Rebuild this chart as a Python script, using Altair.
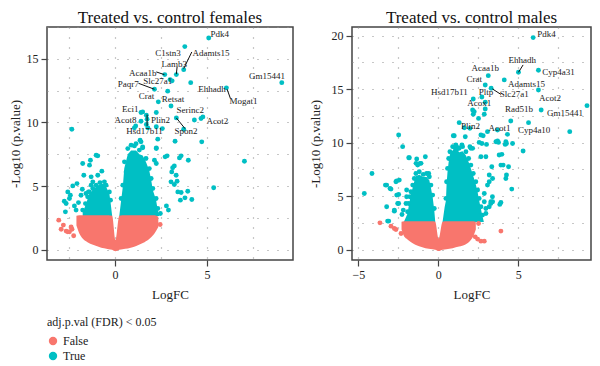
import altair as alt
import pandas as pd

FONT = "Liberation Serif"
RED, TEAL = "#F8766D", "#00BFC4"

# ---------------- Females panel ----------------
F_SIG_X = [5.09, 3.79, 3.73, 3.33, 2.70, 2.99, 3.10, 4.11, 2.14, 2.86, 6.05, 9.06, 2.35, 3.04, 1.41, 1.50,
           1.70, 2.24, 3.33, 4.31, 4.67, 4.77, 1.41, 1.74, 1.70, 1.12, 1.05, 1.78, 2.24, 2.57, -2.35, 3.73,
           1.36, 1.41, 2.32, 3.26, 4.71, 1.05, 1.50, 2.24,
           7.03, 5.36, 3.59, 3.50, 3.98, 2.72, 2.83, 3.22, 3.13, 3.08, 3.32, 3.37, 3.04, 3.22, 3.41, 3.59,
           3.80, 3.55, 4.17, 3.95, 2.90, 2.79, 2.46, 2.14, 2.24, 2.24,
           -1.76, -1.34, -1.39, -1.03, -0.94, -1.70, -1.30, -0.72, -0.94, -2.30, -2.07, -2.57, -2.43, -2.76,
           -2.66, -2.48, -2.21, -2.12, -1.99, -1.85, -1.78, -2.70, -1.58, -1.45, -1.30, -1.21]
F_SIG_Y = [16.64, 15.96, 14.15, 13.76, 13.76, 13.37, 13.27, 13.13, 12.61, 12.46, 12.72, 13.13, 11.62, 11.30, 10.78, 10.83,
           10.57, 10.78, 10.36, 10.20, 10.31, 10.44, 10.10, 10.26, 9.84, 9.73, 9.58, 9.58, 9.66, 9.52, 9.47, 9.47,
           8.61, 8.48, 8.69, 8.53, 8.48, 8.16, 8.01, 8.01,
           6.96, 4.87, 7.38, 7.22, 7.04, 7.30, 7.38, 6.59, 6.44, 6.12, 5.86, 5.39, 5.34, 5.13, 4.55, 4.50,
           4.08, 3.90, 3.95, 4.60, 3.12, 3.45, 2.85, 7.04, 6.78, 7.95,
           6.78, 7.04, 6.65, 7.43, 7.38, 5.86, 5.73, 6.18, 5.86, 5.02, 5.20, 4.55, 4.29, 3.82,
           3.64, 4.03, 3.45, 3.12, 3.71, 4.29, 4.76, 2.98, 4.42, 4.55, 5.08, 5.34]
# dots sitting on the rim of the packed clouds
F_EDGE_X = [-1.76, -1.61, -1.49, -1.40, -1.21, -1.03, -0.82, -0.58, -0.49, -0.31, -0.25,
            0.33, 0.42, 0.60, 0.51, 0.69, 0.87, 1.14, 1.32, 1.50, 1.05, 1.68, 1.86, 1.96, 2.05, 2.23, 2.32]
F_EDGE_Y = [3.12, 3.63, 4.16, 4.55, 4.81, 5.08, 5.28, 5.34, 5.08, 4.55, 3.90,
            4.03, 5.08, 6.12, 6.91, 7.95, 8.22, 8.34, 7.83, 8.08, 7.43, 7.17, 6.38, 5.60, 4.81, 4.03, 3.24]
F_NS_X = [-3.06, -2.93, -2.81, -2.48, -2.34, -2.39, -2.66, -2.25, -2.57, 2.45]
F_NS_Y = [2.33, 1.62, 1.94, 1.41, 1.62, 1.80, 1.47, 1.10, 1.41, 1.99]

# outlines of the densely packed point clouds
F_RED_X = [-2.10, -1.95, -1.80, -1.50, -1.20, -0.90, -0.60, -0.35, -0.16, 0.02, 0.23, 0.40, 0.70, 1.00, 1.30, 1.60, 1.90, 2.15, 2.35]
F_RED_LO = [1.90, 1.30, 0.95, 0.60, 0.40, 0.25, 0.12, 0.05, 0.00, -0.12, 0.00, 0.05, 0.10, 0.22, 0.40, 0.60, 0.90, 1.30, 1.80]
F_RED_HI = [2.68, 2.72, 2.72, 2.72, 2.72, 2.72, 2.72, 2.72, 2.68, 0.78, 2.68, 2.72, 2.72, 2.72, 2.72, 2.72, 2.72, 2.72, 2.60]
F_TL_X = [-1.76, -1.61, -1.49, -1.40, -1.21, -1.03, -0.82, -0.58, -0.49, -0.31, -0.25, -0.16]
F_TL_HI = [2.90, 3.50, 4.00, 4.40, 4.70, 4.95, 5.15, 5.20, 4.95, 4.40, 3.80, 2.68]
F_TR_X = [0.23, 0.33, 0.42, 0.50, 0.69, 0.87, 1.14, 1.32, 1.50, 1.68, 1.86, 1.96, 2.05, 2.23, 2.32, 2.40]
F_TR_HI = [2.68, 3.90, 4.95, 6.40, 7.50, 7.80, 7.80, 7.50, 7.40, 6.90, 6.20, 5.50, 4.70, 3.90, 3.10, 2.68]
F_BASE = 2.66

F_LAB = ["Pdk4", "C1stn3", "Adamts15", "Lamb3", "Acaa1b", "Slc27a1", "Paqr7", "Crat", "Retsat", "Eci1",
         "Serinc2", "Acot8", "Plin2", "Acot2", "Hsd17b11", "Spon2", "Ehhadh", "Mogat1", "Gm15441"]
F_LAB_X = [5.69, 2.88, 5.22, 3.22, 1.50, 2.32, 0.72, 1.71, 3.15, 0.82, 4.09, 0.57, 2.47, 5.56, 1.60, 3.86, 5.27, 6.98, 8.26]
F_LAB_Y = [16.98, 15.49, 15.49, 14.58, 13.92, 13.24, 13.03, 12.09, 11.88, 11.04, 10.97, 10.18, 10.18, 10.10, 9.32, 9.32, 12.61, 11.67, 13.66]
F_LEAD_X = [4.17, 3.37, 2.24, 1.27, 1.74, 3.33, 6.09]
F_LEAD_Y = [15.54, 14.36, 13.97, 13.08, 10.62, 10.36, 12.61]
F_LEAD_X2 = [3.73, 3.33, 2.68, 2.14, 1.74, 3.80, 6.27]
F_LEAD_Y2 = [14.23, 13.80, 13.76, 12.61, 9.73, 9.52, 11.88]

# ---------------- Males panel ----------------
M_SIG_X = [5.94, 5.02, 6.27, 3.13, 4.13, 2.94, 3.31, 2.73, 6.27, 2.19, 2.94, 2.15, 2.25, 2.94, 2.88, 2.52,
           2.19, 6.44, 9.31, 8.23, 1.31, 1.63, 1.98, 4.54, 5.65, 3.08, 3.71, 4.33, -2.48,
           -2.23, 1.00, 1.69, 2.81, 1.06, 1.27, 1.48, 1.14, 1.98, 2.04, 2.56, 2.73, 3.02, 3.71, 3.77, 4.27,
           4.65, 5.31,
           -4.15, -4.63, -3.23, -3.02, -2.60, -3.23, -3.17, -2.75, -2.48, -2.60, -2.44, -1.81, -1.35, -0.81,
           -1.14, -1.39, -1.98, -1.98, -2.02, -2.19, -2.27, -0.60,
           0.94, 2.67, 2.15, 2.67, 2.98, 3.35, 3.81, 3.98, 4.19, 4.40, 4.27, 4.60, 3.92, 3.85, 3.29, 3.19,
           3.40, 3.08, 2.88, 3.19, 3.92, 4.06, 4.23, 3.19, 3.40, 4.23, 3.61, -1.85, -3.31, -2.96, -2.65,
           -2.48, -2.75, -3.10, -2.54, 2.88, 3.29, 3.39, 2.98, 2.67, 2.98]
M_SIG_Y = [19.81, 16.57, 16.76, 16.26, 15.86, 15.39, 15.08, 14.27, 14.92, 14.08, 13.77, 13.05, 12.90, 13.15, 12.65, 12.27,
           12.65, 13.05, 13.46, 11.03, 11.87, 11.40, 11.34, 12.03, 11.87, 11.03, 11.18, 10.78, 10.72,
           9.63, 10.65, 10.56, 10.65, 9.47, 9.53, 9.78, 9.32, 9.63, 9.47, 10.03, 9.93, 9.84, 10.16, 10.03, 9.93,
           9.93, 9.22,
           7.13, 5.26, 6.04, 5.73, 5.11, 4.02, 2.68, 3.61, 4.33, 6.42, 6.51, 8.60, 8.48, 8.69,
           8.07, 8.07, 5.58, 4.95, 4.33, 3.71, 3.30, 7.13,
           10.65, 10.72, 9.47, 8.69, 8.69, 7.76, 8.85, 8.91, 9.84, 7.76, 6.98, 5.67, 4.42, 4.24, 4.49, 4.02,
           6.66, 6.04, 5.26, 6.98, 7.91, 7.91, 6.66, 6.36, 4.49, 10.09, 10.09, 8.60, 6.04, 5.67, 6.36,
           5.17, 3.71, 2.68, 4.33, 4.49, 4.33, 4.95, 3.86, 3.24, 3.39]
M_EDGE_X = [-1.92, -1.85, -1.77, -1.71, -1.60, -1.50, -1.40, -1.19, -0.94, -0.73, -0.56, -0.46, -0.35, -0.25,
            -1.29, -1.08,
            0.48, 0.52, 0.58, 0.65, 0.73, 0.90, 1.10, 1.31, 1.52, 1.73, 1.90, 2.04, 2.19, 2.35, 2.46, 2.56,
            2.67, 2.77]
M_EDGE_Y = [3.55, 4.33, 4.95, 5.42, 6.04, 6.66, 7.13, 7.29, 7.04, 7.13, 6.82, 6.04, 5.11, 3.86,
            7.91, 8.07,
            4.80, 6.36, 7.60, 8.53, 9.16, 9.63, 9.78, 9.47, 9.63, 9.16, 8.53, 7.91, 7.13, 6.36, 5.58, 4.80,
            4.02, 3.24]
M_NS_X = [-3.65, -2.96, -2.75, -2.65, -2.33, 2.31, 2.46, 2.67, 2.88, 3.92, 2.52]
M_NS_Y = [2.52, 2.21, 1.99, 1.90, 1.52, 1.21, 1.00, 0.81, 0.81, 1.75, 2.46]

M_RED_X = [-2.30, -2.15, -2.00, -1.70, -1.40, -1.00, -0.60, -0.35, -0.19, 0.02, 0.27, 0.50, 0.90, 1.30, 1.70, 2.00, 2.20, 2.35]
M_RED_LO = [1.90, 1.30, 1.05, 0.70, 0.45, 0.25, 0.10, 0.05, 0.00, -0.12, 0.00, 0.05, 0.15, 0.30, 0.50, 0.85, 1.30, 1.90]
M_RED_HI = [2.62, 2.66, 2.66, 2.66, 2.66, 2.66, 2.66, 2.66, 2.62, 1.06, 2.62, 2.66, 2.66, 2.66, 2.66, 2.66, 2.66, 2.62]
M_TL_X = [-2.15, -1.92, -1.85, -1.77, -1.71, -1.60, -1.50, -1.40, -1.19, -0.94, -0.73, -0.56, -0.46, -0.35, -0.25, -0.19]
M_TL_HI = [2.62, 3.40, 4.10, 4.70, 5.20, 5.80, 6.40, 6.90, 7.00, 6.80, 6.80, 6.50, 5.80, 4.90, 3.70, 2.62]
M_TR_X = [0.27, 0.40, 0.48, 0.52, 0.58, 0.65, 0.73, 0.90, 1.10, 1.31, 1.52, 1.73, 1.90, 2.04, 2.19, 2.35, 2.46, 2.56, 2.67, 2.77, 2.85]
M_TR_HI = [2.62, 4.00, 4.60, 6.10, 7.30, 8.20, 8.90, 9.30, 9.40, 9.10, 9.20, 8.80, 8.20, 7.60, 6.90, 6.10, 5.40, 4.60, 3.80, 3.10, 2.62]
M_BASE = 2.60

M_LAB = ["Pdk4", "Ehhadh", "Cyp4a31", "Acaa1b", "Crat", "Adamts15", "Hsd17b11", "Pltp", "Slc27a1",
         "Acot2", "Acox1", "Rad51b", "Gm15441", "Plin2", "Acot1", "Cyp4a10"]
M_LAB_X = [6.78, 5.25, 7.53, 2.94, 2.25, 5.53, 0.69, 2.98, 4.75, 7.00, 2.56, 5.06, 7.94, 2.02, 3.83, 6.00]
M_LAB_Y = [20.12, 17.72, 16.57, 16.95, 15.92, 15.48, 14.70, 14.70, 14.51, 14.20, 13.67, 13.15, 12.74, 11.59, 11.40, 11.19]
M_LEAD_X = [5.31, 3.39]
M_LEAD_Y = [17.26, 15.02]
M_LEAD_X2 = [5.02, 3.92]
M_LEAD_Y2 = [16.57, 14.51]


def steps(lo, hi, step=2.5):
    out, v = [], lo
    while v <= hi + 1e-9:
        out.append(round(v, 2))
        v += step
    return out


def make_axis(title, values, title_pad):
    return alt.Axis(
        title=title, values=values, grid=True, gridDash=[1, 9], gridColor="#8f8f8f", gridWidth=1.2,
        domain=False, tickSize=6, tickColor="#444444", tickWidth=1.2,
        tickOpacity={"condition": {"test": "datum.value % 5 != 0", "value": 0}, "value": 1},
        labelExpr="datum.value % 5 == 0 ? datum.label : ''",
        labelFont=FONT, labelFontSize=12, labelColor="#222222", labelPadding=3,
        titleFont=FONT, titleFontSize=13, titleFontWeight="normal", titleColor="#222222",
        titlePadding=title_pad,
    )


def panel(title, xdom, ydom, xgrid, ygrid, sig_x, sig_y, ns_x, ns_y,
          red_x, red_lo, red_hi, tl_x, tl_hi, tr_x, tr_hi, base,
          lab, lab_x, lab_y, lx, ly, lx2, ly2, width, legend, ytitle_pad):
    xs = alt.Scale(domain=xdom, nice=False, zero=False)
    ys = alt.Scale(domain=ydom, nice=False, zero=False)
    X = alt.X("x:Q", scale=xs, axis=make_axis("LogFC", xgrid, 8))
    Y = alt.Y("y:Q", scale=ys, axis=make_axis("-Log10 (p.value)", ygrid, ytitle_pad))

    teal_core = pd.DataFrame({
        "x": tl_x + tr_x,
        "y": [base] * (len(tl_x) + len(tr_x)),
        "hi": tl_hi + tr_hi,
        "wing": ["L"] * len(tl_x) + ["R"] * len(tr_x),
    })
    red_core = pd.DataFrame({"x": red_x, "y": red_lo, "hi": red_hi})
    pts = pd.DataFrame({
        "x": ns_x + sig_x,
        "y": ns_y + sig_y,
        "sig": ["False"] * len(ns_x) + ["True"] * len(sig_x),
    })
    labels = pd.DataFrame({"x": lab_x, "y": lab_y, "name": lab})
    leads = pd.DataFrame({"x": lx, "y": ly, "x2": lx2, "y2": ly2})

    a1 = alt.Chart(teal_core).mark_area(color=TEAL, interpolate="linear").encode(
        x=X, y=Y, y2="hi:Q", detail="wing:N")
    a2 = alt.Chart(red_core).mark_area(color=RED, interpolate="monotone").encode(
        x=X, y=Y, y2="hi:Q")
    leg = alt.Legend(
        title="adj.p.val (FDR) < 0.05", orient="none", legendX=0, legendY=290,
        titleFont=FONT, titleFontSize=12, titleFontWeight="normal", titleColor="#222222",
        labelFont=FONT, labelFontSize=12, labelColor="#222222", symbolType="circle",
        symbolSize=70, symbolStrokeWidth=0, rowPadding=3, titlePadding=6,
    ) if legend else None
    p = alt.Chart(pts).mark_circle(size=24, opacity=1).encode(
        x=X, y=Y,
        color=alt.Color("sig:N", scale=alt.Scale(domain=["False", "True"], range=[RED, TEAL]),
                        legend=leg),
    )
    r = alt.Chart(leads).mark_rule(color="#111111", strokeWidth=1).encode(
        x=X, y=Y, x2="x2:Q", y2="y2:Q")
    t = alt.Chart(labels).mark_text(font=FONT, fontSize=9, color="#222222").encode(
        x=X, y=Y, text="name:N")
    return alt.layer(a1, a2, p, r, t).properties(
        width=width, height=233,
        title=alt.TitleParams(title, font=FONT, fontSize=17, fontWeight="normal",
                              color="#111111", anchor="middle", offset=0),
    )


left = panel("Treated vs. control females", [-3.7, 9.67], [-0.8, 17.5],
             steps(-2.5, 7.5), steps(0, 17.5),
             F_SIG_X + F_EDGE_X, F_SIG_Y + F_EDGE_Y, F_NS_X, F_NS_Y,
             F_RED_X, F_RED_LO, F_RED_HI, F_TL_X, F_TL_HI, F_TR_X, F_TR_HI, F_BASE,
             F_LAB, F_LAB_X, F_LAB_Y, F_LEAD_X, F_LEAD_Y, F_LEAD_X2, F_LEAD_Y2, 246, True, 4)
right = panel("Treated vs. control males", [-5.4, 9.56], [-0.95, 20.8],
              steps(-5, 7.5), steps(0, 20),
              M_SIG_X + M_EDGE_X, M_SIG_Y + M_EDGE_Y, M_NS_X, M_NS_Y,
              M_RED_X, M_RED_LO, M_RED_HI, M_TL_X, M_TL_HI, M_TR_X, M_TR_HI, M_BASE,
              M_LAB, M_LAB_X, M_LAB_Y, M_LEAD_X, M_LEAD_Y, M_LEAD_X2, M_LEAD_Y2, 239, False, 9)

chart = alt.hconcat(left, right, spacing=14).resolve_scale(color="independent").resolve_legend(
    color="independent"
).properties(
    padding={"left": 0, "top": 0, "right": 0, "bottom": 0},
    background="white",
).configure_view(stroke="#444444", strokeWidth=1.5)

chart.save("out.html", embed_options={"renderer": "svg", "actions": False})
